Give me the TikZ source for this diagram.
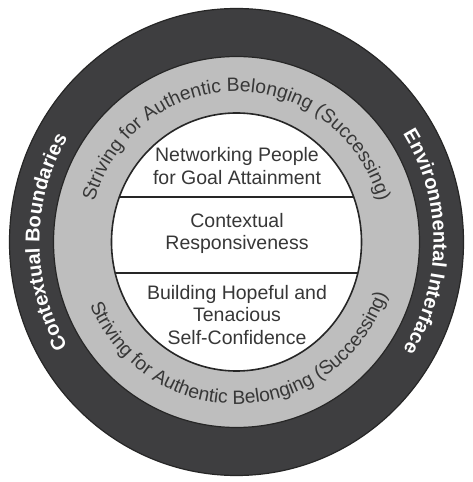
\documentclass[tikz,border=0pt]{standalone}
\usepackage{fontspec}
\setmainfont{Liberation Sans}
\usetikzlibrary{decorations.text}
\definecolor{darkring}{RGB}{62,62,64}
\definecolor{grayring}{RGB}{190,190,190}
\definecolor{edgecol}{RGB}{38,38,38}
\definecolor{txtcol}{RGB}{55,55,55}
\newcommand\ringfont{\fontsize{19.3}{22}\selectfont}
\newcommand\outerfont{\fontsize{20}{24}\selectfont\bfseries}
\tikzset{
  ringedge/.style={draw=edgecol, line width=1.2pt},
  divider/.style={draw=edgecol, line width=1.6pt},
  corelabel/.style={align=center, text=txtcol, font=\fontsize{19.5}{22.5}\selectfont, inner sep=0pt},
  arctext/.style={decorate, decoration={text along path, text align=center, text={#1}}}
}
\begin{document}
\begin{tikzpicture}[x=1pt,y=1pt]
\useasboundingbox (0,0) rectangle (473,482);
\fill[white] (0,0) rectangle (473,482);
\coordinate (c) at (236.5,240);
% rings
\path[fill=darkring, ringedge] (c) ellipse [x radius=227pt, y radius=233.5pt];
\path[fill=grayring, ringedge] (c) ellipse [x radius=183pt, y radius=185.5pt];
\path[fill=white, ringedge, line width=1.6pt] (c) ellipse [x radius=125pt, y radius=129pt];
% dividers
\begin{scope}
  \clip (c) ellipse [x radius=125pt, y radius=129pt];
  \coordinate (d1l) at (100,285);
  \coordinate (d1r) at (373,285);
  \coordinate (d2l) at (100,209);
  \coordinate (d2r) at (373,209);
  \draw[divider] (d1l) -- (d1r);
  \draw[divider] (d2l) -- (d2r);
\end{scope}
% core labels
\node[corelabel] (goal) at (237,316) {Networking People\\for Goal Attainment};
\node[corelabel] (resp) at (237,248.5) {Contextual\\Responsiveness};
\node[corelabel] (conf) at (237,167) {Building Hopeful and\\Tenacious\\Self-Confidence};
% gray ring texts
\path[arctext={|\ringfont\color{txtcol}|Striving for Authentic Belonging (Successing)}]
  (c) ++(180:147.5pt and 150.5pt) arc[start angle=180, end angle=0, x radius=147.5pt, y radius=150.5pt];
\path[arctext={|\ringfont\color{txtcol}|Striving for Authentic Belonging (Successing)}]
  (c) ++(182:159pt and 162pt) arc[start angle=182, end angle=362, x radius=159pt, y radius=162pt];
% dark ring texts
\path[arctext={|\outerfont\color{white}|Contextual Boundaries}]
  (c) ++(240:197pt and 202pt) arc[start angle=240, end angle=120, x radius=197pt, y radius=202pt];
\path[arctext={|\outerfont\color{white}|Environmental Interface}]
  (c) ++(60:197pt and 202pt) arc[start angle=60, end angle=-60, x radius=197pt, y radius=202pt];
\end{tikzpicture}
\end{document}
